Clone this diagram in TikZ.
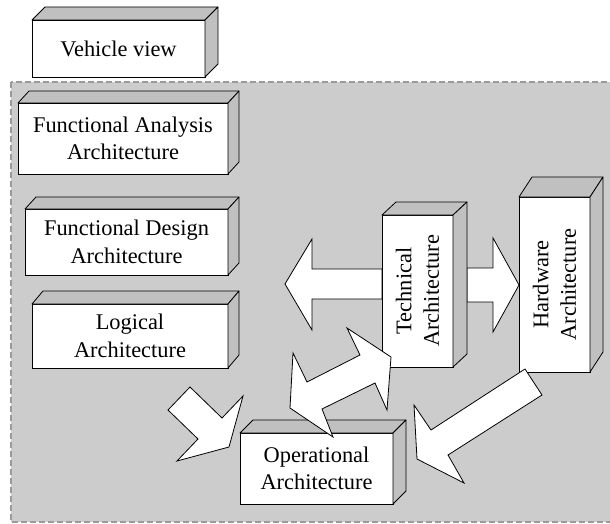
\documentclass[tikz,border=0pt]{standalone}
\usepackage{fontspec}
\setmainfont{Liberation Serif}
\usetikzlibrary{calc}
\definecolor{bgfill}{HTML}{CCCCCC}
\definecolor{facefill}{HTML}{C0C0C0}
\definecolor{dashcol}{HTML}{9A9A9A}
\tikzset{
  frontbox/.style={draw=black, fill=white, line width=0.8pt, inner sep=0pt, outer sep=0pt,
    align=center, font=\fontsize{22.4}{27.5}\selectfont},
  facestyle/.style={draw=black, fill=facefill, line width=0.8pt, line join=round},
  blockarrow/.style={draw=black, fill=white, line width=0.8pt, line join=miter},
  region/.style={draw=dashcol, fill=bgfill, line width=1.5pt, dash pattern=on 6pt off 3pt}
}
\newcommand{\depthfaces}[3]{%
  \draw[facestyle] (#1.north west) -- ++(#2,#3) -- ($(#1.north east)+(#2,#3)$) -- (#1.north east) -- cycle;
  \draw[facestyle] (#1.north east) -- ($(#1.north east)+(#2,#3)$) -- ($(#1.south east)+(#2,#3)$) -- (#1.south east) -- cycle;
}
\begin{document}
\begin{tikzpicture}[x=1pt, y=-1pt]
\useasboundingbox (0,0) rectangle (610,524);
\draw[region] (11,82) rectangle (616,522);

% Vehicle view
\node[frontbox, minimum width=173pt, minimum height=57pt] (veh) at (118.5,48.5) {Vehicle view};
\depthfaces{veh}{13}{-13}

% Left column boxes
\node[frontbox, minimum width=210pt, minimum height=71pt] (fa) at (123,138.5) {Functional Analysis\\Architecture};
\depthfaces{fa}{11}{-12}
\node[frontbox, minimum width=203pt, minimum height=66pt] (fd) at (126.5,242) {Functional Design\\Architecture};
\depthfaces{fd}{11}{-12}
\node[frontbox, minimum width=196pt, minimum height=64pt] (log) at (130,336) {Logical\\Architecture};
\depthfaces{log}{11}{-13}

% Arrows beneath the boxes
\draw[blockarrow] (382,269) -- (312,269) -- (312,239) -- (285,284) -- (312,330) -- (312,299) -- (382,299) -- cycle;
\draw[blockarrow] (467,268) -- (493,268) -- (493,238) -- (519,285) -- (493,332) -- (493,302) -- (467,302) -- cycle;

% Technical, Hardware, Operational
\node[frontbox, minimum width=71pt, minimum height=152pt] (tech) at (417.5,291) {};
\depthfaces{tech}{14}{-13}
\node[rotate=90, align=center, font=\fontsize{22.4}{27.5}\selectfont, inner sep=0pt] (techtxt) at (tech.center) {Technical\\Architecture};
\node[frontbox, minimum width=71pt, minimum height=175pt] (hw) at (554.5,284.5) {};
\depthfaces{hw}{13}{-20}
\node[rotate=90, align=center, font=\fontsize{22.4}{27.5}\selectfont, inner sep=0pt] (hwtxt) at (hw.center) {Hardware\\Architecture};
\node[frontbox, minimum width=153pt, minimum height=71pt] (op) at (316.5,468.5) {Operational\\Architecture};
\depthfaces{op}{13}{-13}

% Arrows on top
\draw[blockarrow] (168,410) -- (190,387) -- (222,418) -- (243,396) -- (229,447) -- (177,461) -- (198,439) -- cycle;
\draw[blockarrow] (347,328) -- (391,357) -- (387,410) -- (375,383) -- (322,409) -- (333,437) -- (290,408) -- (293,353) -- (307,382) -- (360,355) -- cycle;
\draw[blockarrow] (525,369) -- (542,395) -- (448,455) -- (464,483) -- (417,459) -- (414,405) -- (431,430) -- cycle;
\end{tikzpicture}
\end{document}
